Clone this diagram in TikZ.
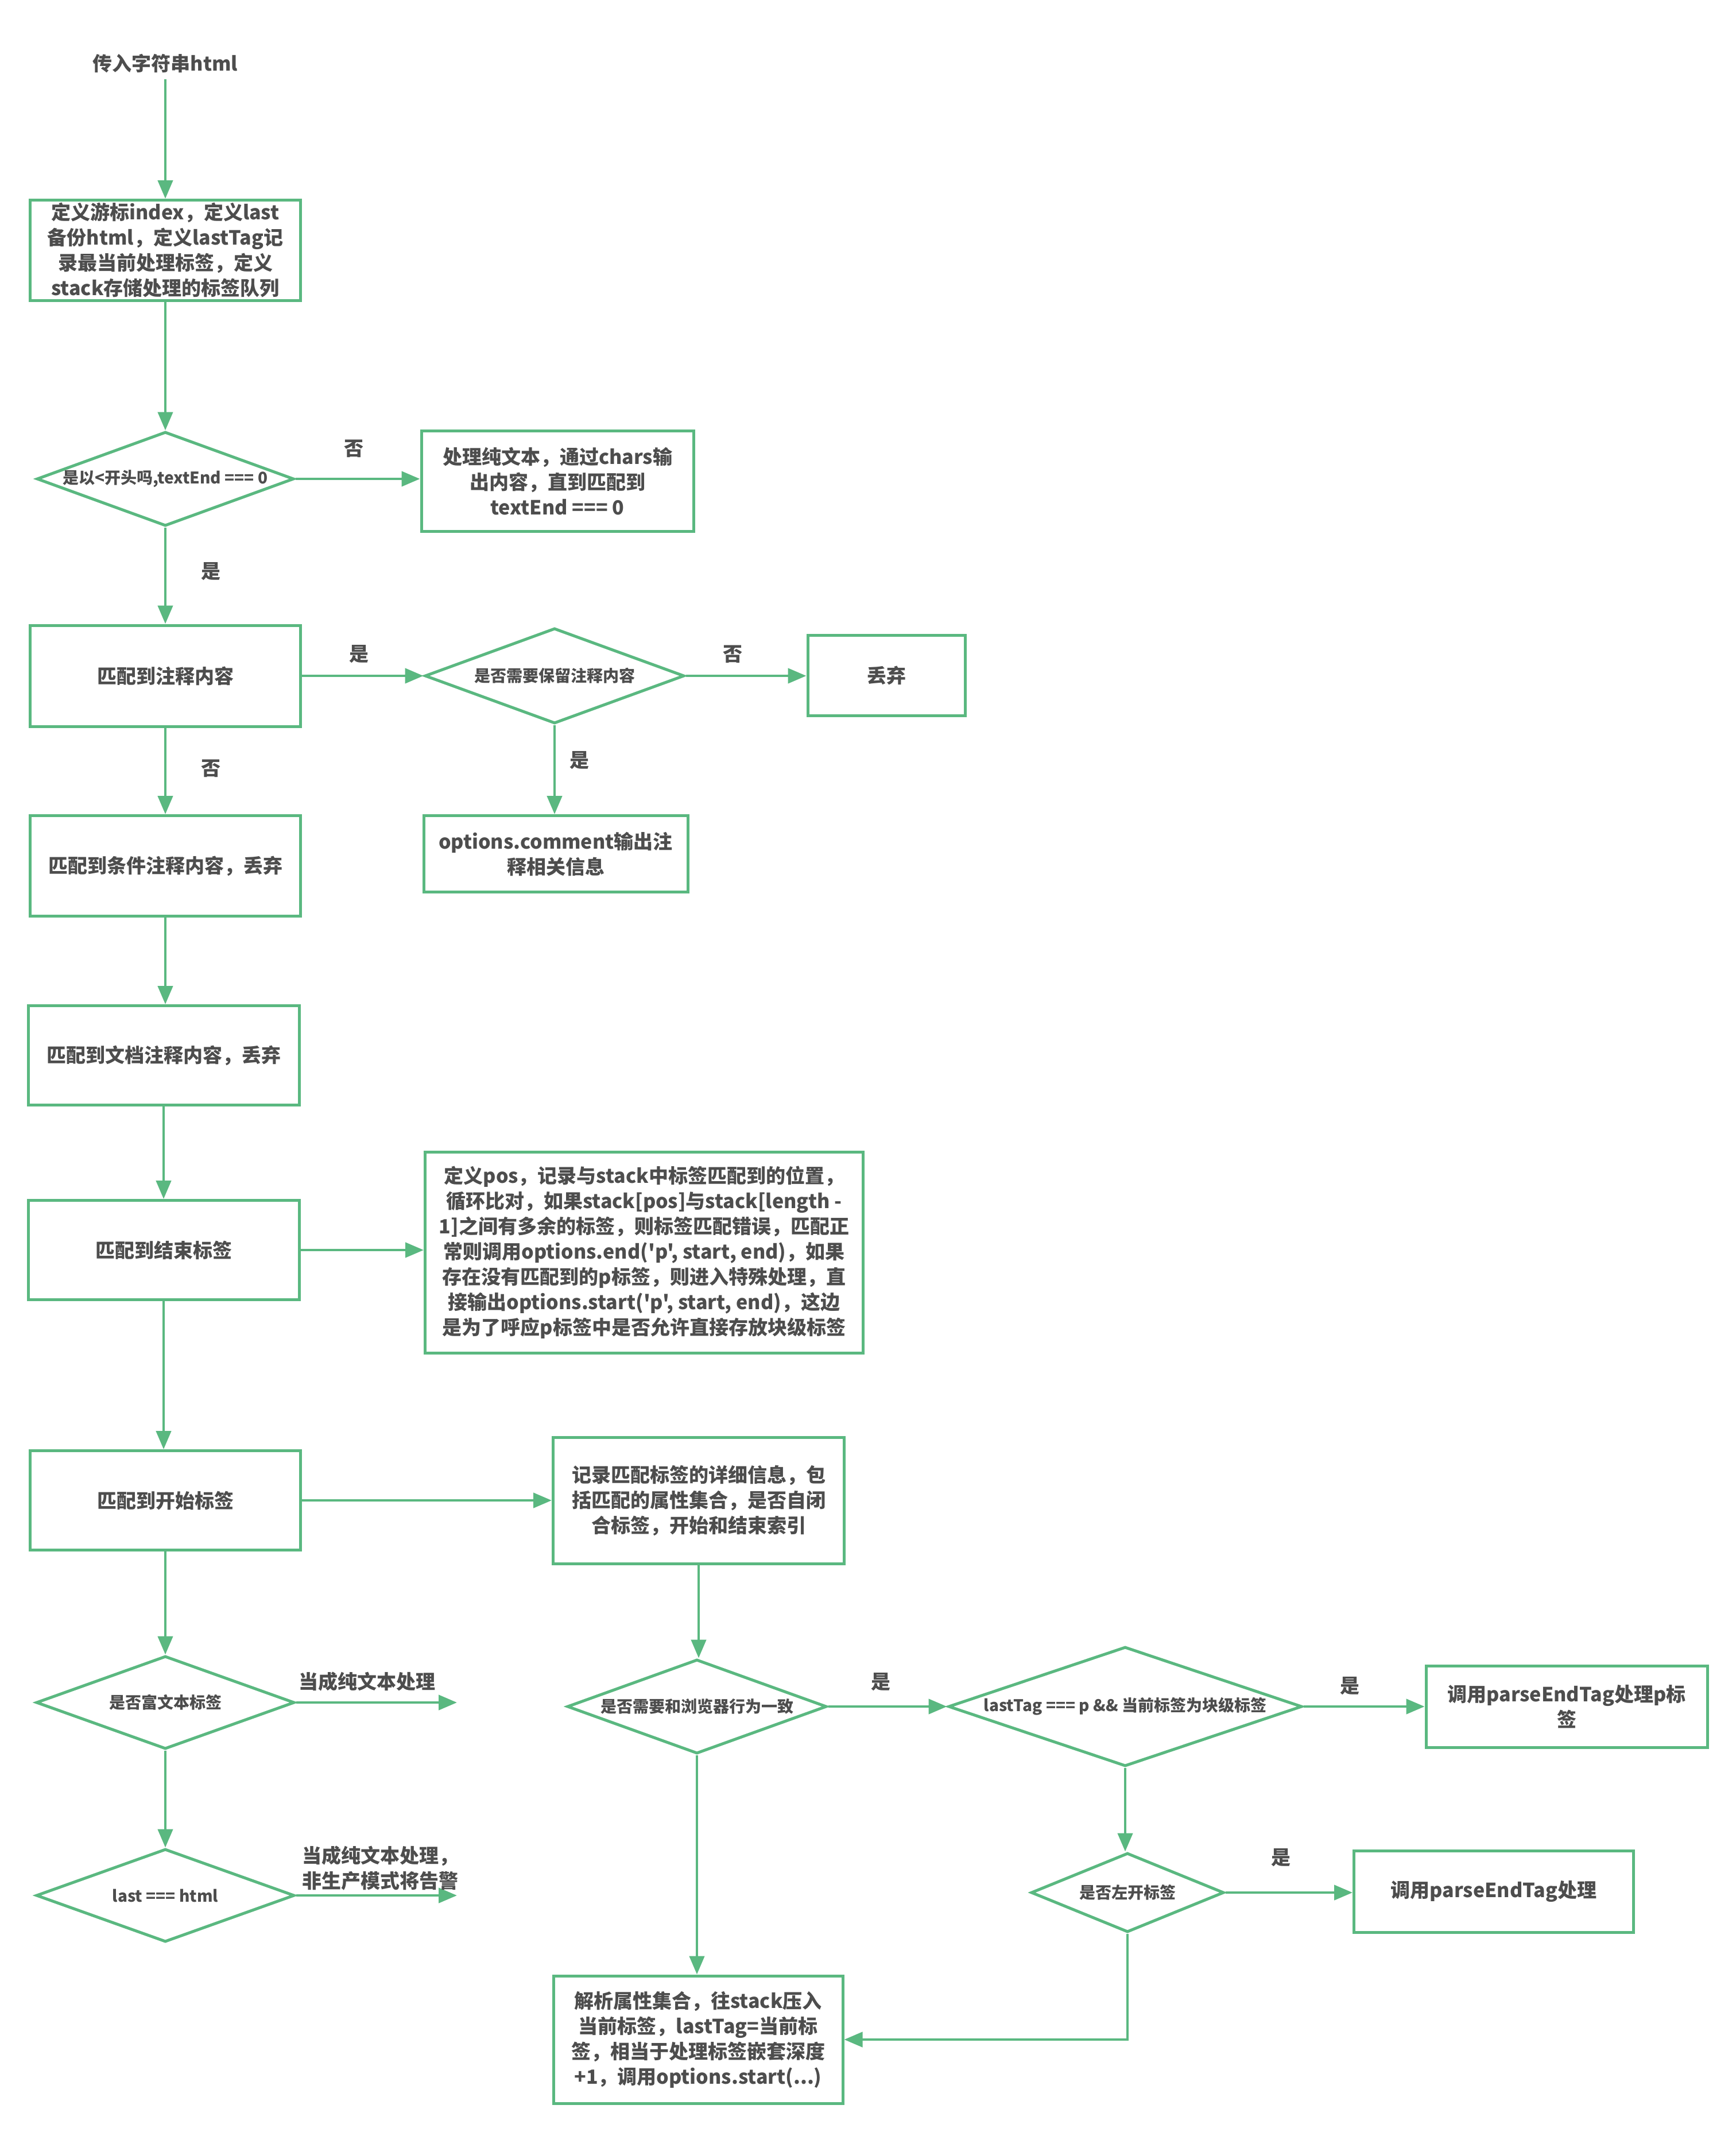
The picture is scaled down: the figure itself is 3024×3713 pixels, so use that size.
\documentclass[tikz,border=0pt]{standalone}
\usepackage{fontspec}
\setmainfont{Noto Sans CJK SC}[Ligatures=TeXOff]
\usetikzlibrary{shapes.geometric,arrows.meta}
\definecolor{gr}{RGB}{90,184,128}
\definecolor{tx}{RGB}{77,77,77}
\begin{document}
\begin{tikzpicture}[x=1pt,y=-1pt,
  box/.style={draw=gr,line width=5pt,rectangle,align=center,text=tx,
    font=\fontsize{34pt}{44pt}\selectfont\bfseries,inner sep=0pt},
  dia/.style={draw=gr,line width=5pt,diamond,inner sep=0pt,text=tx,
    font=\fontsize{28pt}{36pt}\selectfont\bfseries},
  arr/.style={draw=gr,line width=4.5pt,-{Triangle[length=32pt,width=26pt]}},
  lbl/.style={text=tx,font=\fontsize{34pt}{44pt}\selectfont\bfseries,align=center,inner sep=0pt},
]
\fill[white] (0,0) rectangle (3024,3713);
\useasboundingbox (0,0) rectangle (3024,3713);

% nodes
\node[lbl,inner sep=10pt] (title) at (288,111) {传入字符串html};
\node[box,minimum width=471pt,minimum height=175pt] (box1) at (288,436)
  {定义游标index，定义last\\备份html，定义lastTag记\\录最当前处理标签，定义\\stack存储处理的标签队列};
\node[dia,minimum width=448pt,minimum height=164pt] (d1) at (288,834)
  {\makebox[0pt]{是以<开头吗,textEnd === 0}};
\node[box,minimum width=474pt,minimum height=175pt] (rbox) at (971,838)
  {处理纯文本，通过chars输\\出内容，直到匹配到\\textEnd === 0};
\node[box,minimum width=471pt,minimum height=176pt] (box2) at (288,1177) {匹配到注释内容};
\node[dia,minimum width=452pt,minimum height=166pt] (d2) at (966,1177)
  {\makebox[0pt]{是否需要保留注释内容}};
\node[box,minimum width=274pt,minimum height=140pt] (discard) at (1544,1176) {丢弃};
\node[box,minimum width=460pt,minimum height=133pt] (optbox) at (968,1487)
  {options.comment输出注\\释相关信息};
\node[box,minimum width=471pt,minimum height=175pt] (box3) at (288,1508) {匹配到条件注释内容，丢弃};
\node[box,minimum width=472pt,minimum height=173pt] (box4) at (285,1838) {匹配到文档注释内容，丢弃};
\node[box,minimum width=472pt,minimum height=173pt] (box5) at (285,2177) {匹配到结束标签};
\node[box,minimum width=763pt,minimum height=350pt] (bigbox) at (1122,2181)
  {定义pos，记录与stack中标签匹配到的位置，\\循环比对，如果stack[pos]与stack[length -\\1]之间有多余的标签，则标签匹配错误，匹配正\\常则调用options.end('p', start, end)，如果\\存在没有匹配到的p标签，则进入特殊处理，直\\接输出options.start('p', start, end)，这边\\是为了呼应p标签中是否允许直接存放块级标签};
\node[box,minimum width=471pt,minimum height=173pt] (box6) at (288,2613) {匹配到开始标签};
\node[box,minimum width=507pt,minimum height=220pt] (recbox) at (1217,2613)
  {记录匹配标签的详细信息，包\\括匹配的属性集合，是否自闭\\合标签，开始和结束索引};
\node[dia,minimum width=450pt,minimum height=162pt] (drich) at (288,2965)
  {\makebox[0pt]{是否富文本标签}};
\node[dia,minimum width=450pt,minimum height=162pt] (dlast) at (288,3301)
  {\makebox[0pt]{last === html}};
\coordinate (richend) at (796,2965);
\coordinate (lastend) at (796,3301);
\node[dia,minimum width=452pt,minimum height=164pt] (dbrow) at (1214,2972)
  {\makebox[0pt]{是否需要和浏览器行为一致}};
\node[dia,minimum width=616pt,minimum height=208pt] (dtag) at (1960,2972)
  {\makebox[0pt]{lastTag === p \&\& 当前标签为块级标签}};
\node[box,minimum width=490pt,minimum height=142pt] (pbox) at (2729,2972)
  {调用parseEndTag处理p标\\签};
\node[dia,minimum width=336pt,minimum height=138pt] (dleft) at (1964,3296)
  {\makebox[0pt]{是否左开标签}};
\node[box,minimum width=487pt,minimum height=142pt] (pebox) at (2602,3294)
  {调用parseEndTag处理};
\node[box,minimum width=504pt,minimum height=222pt] (parsebox) at (1216,3552)
  {解析属性集合，往stack压入\\当前标签，lastTag=当前标\\签，相当于处理标签嵌套深度\\+1，调用options.start(...)};

% connectors
\draw[arr] (title.south) -- (title.south |- box1.north);
\draw[arr] (box1.south) -- (box1.south |- d1.north);
\draw[arr] (d1.east) -- (d1.east -| rbox.west);
\draw[arr] (d1.south) -- (d1.south |- box2.north);
\draw[arr] (box2.east) -- (d2.west);
\draw[arr] (d2.east) -- (d2.east -| discard.west);
\draw[arr] (d2.south) -- (d2.south |- optbox.north);
\draw[arr] (box2.south) -- (box2.south |- box3.north);
\draw[arr] (box3.south) -- (box3.south |- box4.north);
\draw[arr] (box4.south) -- (box4.south |- box5.north);
\draw[arr] (box5.east) -- (box5.east -| bigbox.west);
\draw[arr] (box5.south) -- (box5.south |- box6.north);
\draw[arr] (box6.east) -- (recbox.west);
\draw[arr] (box6.south) -- (box6.south |- drich.north);
\draw[arr] (drich.east) -- (richend);
\draw[arr] (drich.south) -- (dlast.north);
\draw[arr] (dlast.east) -- (lastend);
\draw[arr] (recbox.south) -- (recbox.south |- dbrow.north);
\draw[arr] (dbrow.east) -- (dtag.west);
\draw[arr] (dtag.east) -- (pbox.west);
\draw[arr] (dtag.south) -- (dtag.south |- dleft.north);
\draw[arr] (dleft.east) -- (dleft.east -| pebox.west);
\draw[arr] (dleft.south) |- (parsebox.east);
\draw[arr] (dbrow.south) -- (dbrow.south |- parsebox.north);

% labels
\node[lbl] (l1) at (616,781) {否};
\node[lbl] (l2) at (367,995) {是};
\node[lbl] (l3) at (625,1139) {是};
\node[lbl] (l4) at (1276,1139) {否};
\node[lbl] (l5) at (1009,1324) {是};
\node[lbl] (l6) at (367,1338) {否};
\node[lbl] (l7) at (639,2929) {当成纯文本处理};
\node[lbl] (l8) at (662,3254) {当成纯文本处理，\\非生产模式将告警};
\node[lbl] (l9) at (1534,2929) {是};
\node[lbl] (l10) at (2351,2936) {是};
\node[lbl] (l11) at (2231,3235) {是};
\end{tikzpicture}
\end{document}
